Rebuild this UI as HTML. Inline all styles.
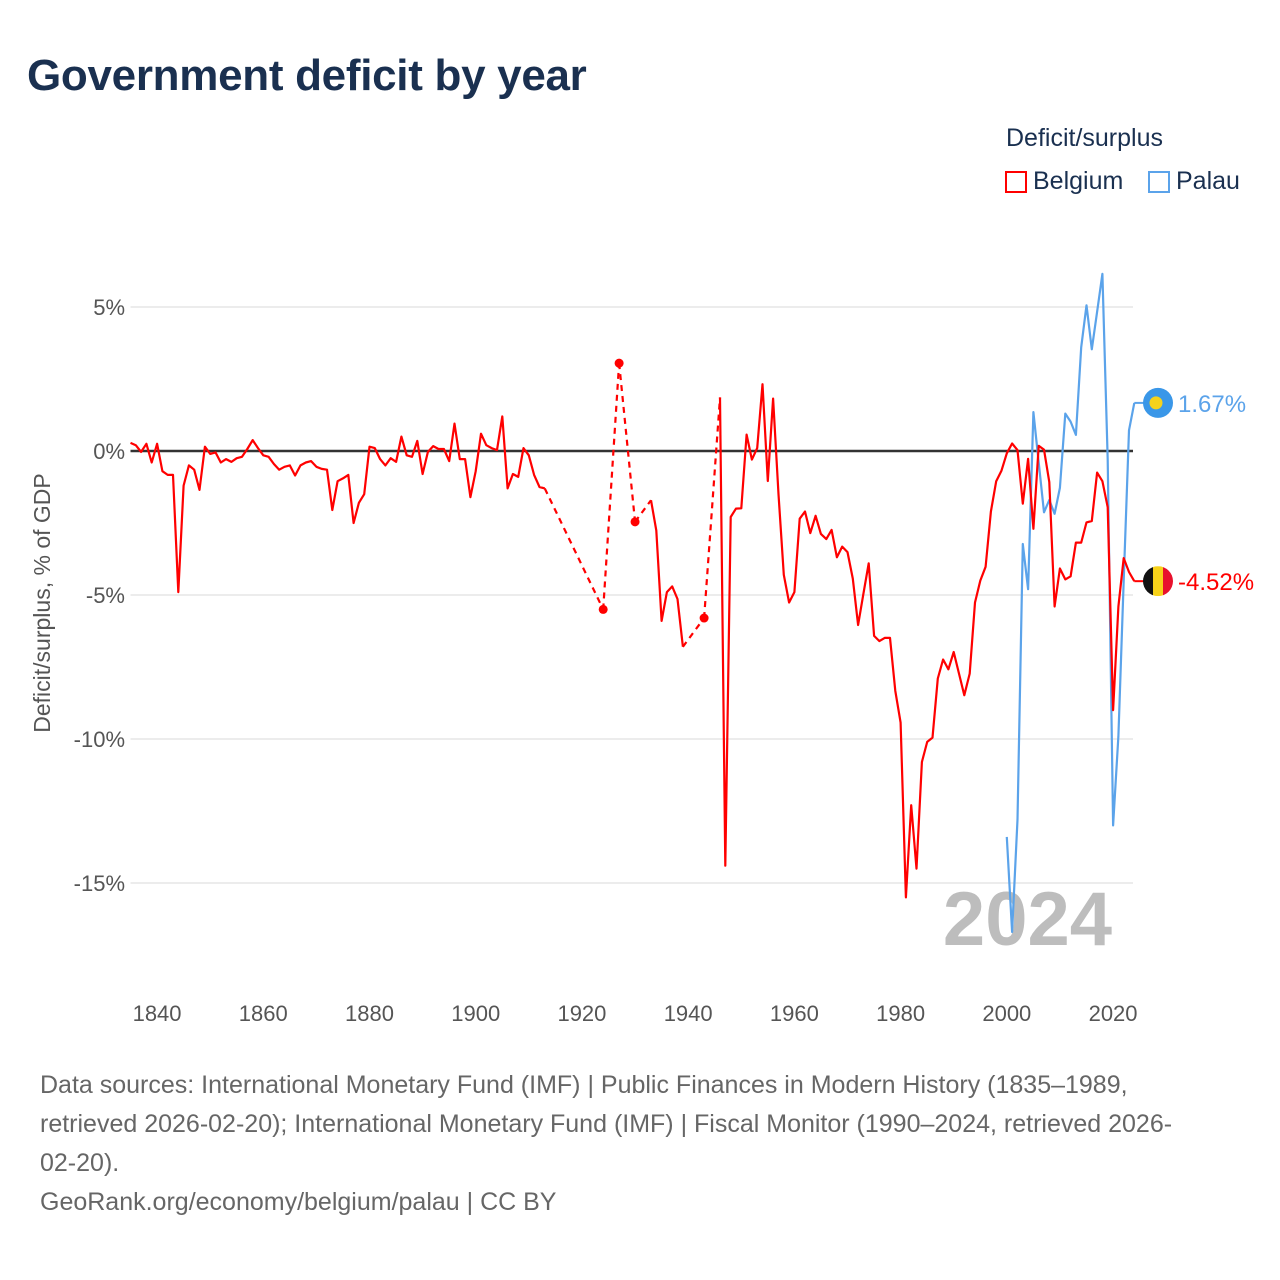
<!DOCTYPE html>
<html><head><meta charset="utf-8"><style>
body{margin:0;background:#fff;font-family:"Liberation Sans",sans-serif;}
#wrap{position:relative;width:1280px;height:1280px;overflow:hidden;}
.t{position:absolute;white-space:nowrap;}
</style></head><body>
<div id="wrap">
<div class="t" style="left:27px;top:51px;font-size:44px;font-weight:bold;color:#1a3050;letter-spacing:-0.3px;">Government deficit by year</div>
<div class="t" style="left:1006px;top:124px;font-size:25px;color:#1a3050;">Deficit/surplus</div>
<div class="t" style="left:1005px;top:167px;font-size:25px;color:#1a3050;"><span style="display:inline-block;width:22px;height:22px;border:2px solid #f00;vertical-align:-4px;margin-right:6px;box-sizing:border-box;"></span>Belgium</div>
<div class="t" style="left:1148px;top:167px;font-size:25px;color:#1a3050;"><span style="display:inline-block;width:22px;height:22px;border:2px solid #5ba3ea;vertical-align:-4px;margin-right:6px;box-sizing:border-box;"></span>Palau</div>
<svg id="chart" width="1280" height="1280" style="position:absolute;left:0;top:0;"></svg>
<div class="t" style="left:40px;top:1066px;font-size:25px;line-height:39px;color:#666;">Data sources: International Monetary Fund (IMF) | Public Finances in Modern History (1835–1989,<br>retrieved 2026-02-20); International Monetary Fund (IMF) | Fiscal Monitor (1990–2024, retrieved 2026-<br>02-20).<br>GeoRank.org/economy/belgium/palau | CC BY</div>
</div>
<script>
const xTicks=[1840,1860,1880,1900,1920,1940,1960,1980,2000,2020];
const yTicks=[5,0,-5,-10,-15];
const belgiumStart=1835;
const belgiumValues=[0.28,0.2,-0.03,0.25,-0.4,0.25,-0.7,-0.83,-0.83,-4.9,-1.2,-0.5,-0.65,-1.35,0.15,-0.1,-0.05,-0.4,-0.28,-0.38,-0.25,-0.2,0.07,0.38,0.1,-0.15,-0.2,-0.45,-0.65,-0.55,-0.5,-0.85,-0.5,-0.4,-0.35,-0.55,-0.62,-0.65,-2.05,-1.05,-0.95,-0.83,-2.5,-1.8,-1.5,0.15,0.1,-0.28,-0.5,-0.25,-0.38,0.5,-0.15,-0.2,0.35,-0.8,-0.03,0.17,0.07,0.07,-0.35,0.95,-0.28,-0.28,-1.6,-0.7,0.6,0.2,0.1,0.03,1.2,-1.3,-0.8,-0.9,0.1,-0.15,-0.83,-1.25,-1.3,
null,null,null,null,null,null,null,null,null,null,-5.5,null,null,3.05,null,null,-2.46,null,null,-1.71,-2.76,-5.9,-4.9,-4.7,-5.14,-6.8,null,null,null,-5.8,null,null,1.86,-14.4,-2.29,-2.0,-1.99,0.57,-0.3,0.1,2.32,-1.04,1.82,-1.5,-4.3,-5.26,-4.9,-2.35,-2.1,-2.85,-2.25,-2.88,-3.06,-2.74,-3.69,-3.32,-3.51,-4.43,-6.04,-4.96,-3.9,-6.42,-6.6,-6.49,-6.49,-8.33,-9.43,-15.5,-12.3,-14.5,-10.8,-10.1,-9.95,-7.9,-7.24,-7.58,-6.98,-7.73,-8.48,-7.73,-5.26,-4.5,-4.02,-2.1,-1.05,-0.68,-0.08,0.26,0.03,-1.83,-0.27,-2.7,0.18,0.05,-1.08,-5.4,-4.08,-4.46,-4.35,-3.18,-3.18,-2.48,-2.43,-0.75,-1.05,-1.95,-9.0,-5.4,-3.72,-4.2,-4.52];
const palauStart=2000;
const palauValues=[-13.4,-16.7,-12.8,-3.23,-4.8,1.35,-0.4,-2.13,-1.7,-2.18,-1.28,1.3,1.02,0.56,3.6,5.06,3.53,4.83,6.15,-0.3,-13.0,-9.9,-4.5,0.72,1.67];
const NS='http://www.w3.org/2000/svg';
const svg=document.getElementById('chart');
const X0=130.5,X1=1133,Y0=451,PPU=28.8;
const xs=y=>X0+(y-1835)*(1113-157)/180;
const ys=v=>Y0-v*PPU;
function mk(t,a){const e=document.createElementNS(NS,t);for(const k in a)e.setAttribute(k,a[k]);svg.appendChild(e);return e;}
yTicks.forEach(v=>{
 const g=mk('line',{x1:X0,x2:X1,y1:ys(v),y2:ys(v),stroke:v===0?'#333':'#e6e6e6','stroke-width':v===0?2.5:1.5});
 
 
 const t=mk('text',{x:125,y:ys(v)+8,'text-anchor':'end','font-size':22,fill:'#555','font-family':'Liberation Sans, sans-serif'});
 t.textContent=v+'%';
 
 
});
xTicks.forEach(y=>{
 const t=mk('text',{x:xs(y),y:1021,'text-anchor':'middle','font-size':22,fill:'#555','font-family':'Liberation Sans, sans-serif'});
 t.textContent=y;
 
 
});
const yt=mk('text',{x:0,y:0,transform:'translate(50,603) rotate(-90)','text-anchor':'middle','font-size':23,fill:'#555','font-family':'Liberation Sans, sans-serif'});
yt.textContent='Deficit/surplus, % of GDP';


const yr=mk('text',{x:1112,y:945,'text-anchor':'end','font-size':76,'font-weight':'bold',fill:'#bdbdbd','font-family':'Liberation Sans, sans-serif'});
yr.textContent='2024';


function drawSeries(start,vals,color,name){
 const pts=vals.map((v,i)=>v===null?null:[xs(start+i),ys(v)]);
 let runs=[],cur=[];
 pts.forEach(p=>{if(p)cur.push(p);else if(cur.length){runs.push(cur);cur=[];}});
 if(cur.length)runs.push(cur);
 for(let i=0;i<runs.length-1;i++){
  const a=runs[i][runs[i].length-1],b=runs[i+1][0];
  const d=mk('line',{x1:a[0],y1:a[1],x2:b[0],y2:b[1],stroke:color,'stroke-width':2.2,'stroke-dasharray':'6,5'});
  
  
 }
 runs.forEach(r=>{
  if(r.length===1){
   const c=mk('circle',{cx:r[0][0],cy:r[0][1],r:4.5,fill:color});
   
   
  }else{
   const p=mk('path',{d:'M'+r.map(q=>q[0].toFixed(1)+','+q[1].toFixed(1)).join('L'),fill:'none',stroke:color,'stroke-width':2.2,'stroke-linejoin':'round'});
   
   
  }
 });
 return pts[pts.length-1];
}
const pe=drawSeries(palauStart,palauValues,'#5ba3ea','palau');
const be=drawSeries(belgiumStart,belgiumValues,'#ff0000','belgium');
const fx=1158;
[[pe,'#5ba3ea','palau',palauValues[palauValues.length-1]],[be,'#ff0000','belgium',belgiumValues[belgiumValues.length-1]]].forEach(([p,c,n,v])=>{
 const l=mk('line',{x1:p[0],y1:p[1],x2:fx-14,y2:p[1],stroke:c,'stroke-width':2});
 
 
 const g=document.createElementNS(NS,'g');svg.appendChild(g);
 
 
 const cy=p[1];
 if(n==='palau'){
  g.innerHTML=`<circle cx="${fx}" cy="${cy}" r="15" fill="#3a97e8"/><circle cx="${fx-2}" cy="${cy}" r="6.5" fill="#f5d21c"/>`;
 }else{
  g.innerHTML=`<clipPath id="bc"><circle cx="${fx}" cy="${cy}" r="15"/></clipPath><g clip-path="url(#bc)"><rect x="${fx-15}" y="${cy-15}" width="10" height="30" fill="#111"/><rect x="${fx-5}" y="${cy-15}" width="10" height="30" fill="#f7d21a"/><rect x="${fx+5}" y="${cy-15}" width="10" height="30" fill="#e8112d"/></g>`;
 }
 const t=mk('text',{x:fx+20,y:cy+9,'font-size':24,fill:c,'font-family':'Liberation Sans, sans-serif'});
 t.textContent=v.toFixed(2)+'%';
 
 
});
</script>
</body></html>
